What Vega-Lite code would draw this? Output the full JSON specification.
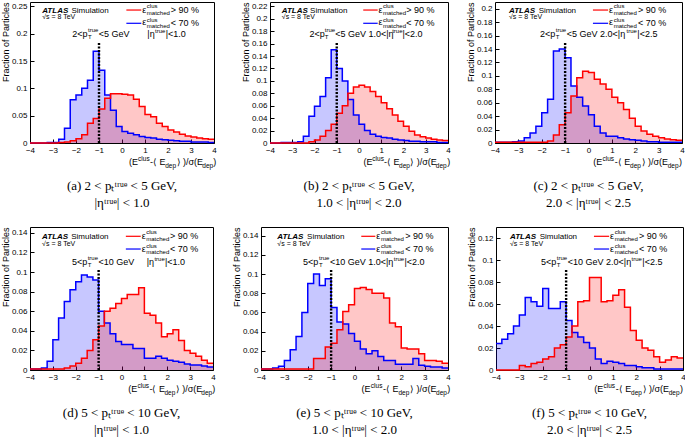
{
"$schema":"https://vega.github.io/schema/vega-lite/v6.json",
"padding":{"left":0,"top":1,"right":0,"bottom":0},
"config":{
 "view":{"stroke":"black","strokeWidth":1},
 "numberFormat":"~g",
 "axis":{"grid":false,"domain":false,"tickSize":-4,"tickColor":"black","tickWidth":1,"labelPadding":7,"labelFont":"Liberation Sans","labelFontSize":8,"labelColor":"black","labelFlush":false,"labelOverlap":false,"titleFont":"Liberation Sans","titleFontSize":9,"titleFontWeight":"normal","titleColor":"black"},
 "axisY":{"titleAnchor":"end","titlePadding":1},
 "text":{"font":"Liberation Sans","fontSize":9,"align":"left","baseline":"middle","color":"black"},
 "rule":{"color":"black"},
 "title":{"orient":"bottom","anchor":"middle","font":"Liberation Serif","fontSize":13,"fontWeight":"normal","lineHeight":17,"color":"black"}
},
"spacing":15,
"vconcat":[
{"spacing":22,"hconcat":[
{"width":184,"height":141,"title":{"text":["(a) 2 < pₜᵗʳᵘᵉ < 5 GeV,","|ηᵗʳᵘᵉ| < 1.0"],"offset":10},"resolve":{"scale":{"y":"independent"}},
"layer":[
{"data":{"values":[
{"s":"b","x":-4,"y":0},{"s":"b","x":-3.75,"y":0},{"s":"b","x":-3.5,"y":0},{"s":"b","x":-3.25,"y":0.001},{"s":"b","x":-3,"y":0.001},{"s":"b","x":-2.75,"y":0.007},{"s":"b","x":-2.5,"y":0.027},{"s":"b","x":-2.25,"y":0.079},{"s":"b","x":-2,"y":0.088},{"s":"b","x":-1.75,"y":0.1},{"s":"b","x":-1.5,"y":0.115},{"s":"b","x":-1.25,"y":0.168},{"s":"b","x":-1,"y":0.133},{"s":"b","x":-0.75,"y":0.088},{"s":"b","x":-0.5,"y":0.06},{"s":"b","x":-0.25,"y":0.03},{"s":"b","x":0,"y":0.021},{"s":"b","x":0.25,"y":0.018},{"s":"b","x":0.5,"y":0.015},{"s":"b","x":0.75,"y":0.012},{"s":"b","x":1,"y":0.01},{"s":"b","x":1.25,"y":0.009},{"s":"b","x":1.5,"y":0.007},{"s":"b","x":1.75,"y":0.006},{"s":"b","x":2,"y":0.005},{"s":"b","x":2.25,"y":0.004},{"s":"b","x":2.5,"y":0.003},{"s":"b","x":2.75,"y":0.003},{"s":"b","x":3,"y":0.002},{"s":"b","x":3.25,"y":0.002},{"s":"b","x":3.5,"y":0.002},{"s":"b","x":3.75,"y":0.001},{"s":"b","x":4,"y":0.001},
{"s":"r","x":-4,"y":0},{"s":"r","x":-3.75,"y":0},{"s":"r","x":-3.5,"y":0},{"s":"r","x":-3.25,"y":0},{"s":"r","x":-3,"y":0},{"s":"r","x":-2.75,"y":0.001},{"s":"r","x":-2.5,"y":0.002},{"s":"r","x":-2.25,"y":0.004},{"s":"r","x":-2,"y":0.008},{"s":"r","x":-1.75,"y":0.015},{"s":"r","x":-1.5,"y":0.036},{"s":"r","x":-1.25,"y":0.045},{"s":"r","x":-1,"y":0.062},{"s":"r","x":-0.75,"y":0.082},{"s":"r","x":-0.5,"y":0.09},{"s":"r","x":-0.25,"y":0.09},{"s":"r","x":0,"y":0.089},{"s":"r","x":0.25,"y":0.088},{"s":"r","x":0.5,"y":0.08},{"s":"r","x":0.75,"y":0.067},{"s":"r","x":1,"y":0.052},{"s":"r","x":1.25,"y":0.048},{"s":"r","x":1.5,"y":0.036},{"s":"r","x":1.75,"y":0.03},{"s":"r","x":2,"y":0.024},{"s":"r","x":2.25,"y":0.02},{"s":"r","x":2.5,"y":0.016},{"s":"r","x":2.75,"y":0.013},{"s":"r","x":3,"y":0.011},{"s":"r","x":3.25,"y":0.009},{"s":"r","x":3.5,"y":0.008},{"s":"r","x":3.75,"y":0.007},{"s":"r","x":4,"y":0.007}
]},
"layer":[
{"mark":{"type":"area","interpolate":"step-after","fillOpacity":0.22},"encoding":{"x":{"field":"x","type":"quantitative","scale":{"domain":[-4,4],"nice":false},"axis":{"values":[-4,-3,-2,-1,0,1,2,3,4],"tickCount":40,"title":null,"labelOverlap":false}},"y":{"field":"y","type":"quantitative","stack":null,"scale":{"domain":[0,0.258],"nice":false},"axis":{"values":[0,0.05,0.1,0.15,0.2,0.25],"tickCount":40,"title":"Fraction of Particles","labelOverlap":false}},"color":{"field":"s","type":"nominal","scale":{"domain":["b","r"],"range":["#0000ff","#ff0000"]},"legend":null}}},
{"mark":{"type":"line","interpolate":"step-after","strokeWidth":1.5},"encoding":{"x":{"field":"x","type":"quantitative"},"y":{"field":"y","type":"quantitative"},"color":{"field":"s","type":"nominal"}}}
]},
{"data":{"values":[{}]},"layer":[
{"mark":{"type":"rule","strokeWidth":2.4,"strokeDash":[2,1.5]},"encoding":{"x":{"datum":-1},"y":{"datum":0,"scale":{"domain":[0,1]},"axis":null},"y2":{"datum":0.72}}},
{"mark":{"type":"rule","color":"#ff0000","strokeWidth":1.2},"encoding":{"x":{"datum":0.19},"x2":{"datum":0.84},"y":{"datum":0.943,"scale":{"domain":[0,1]},"axis":null}}},
{"mark":{"type":"rule","color":"#0000ff","strokeWidth":1.2},"encoding":{"x":{"datum":0.19},"x2":{"datum":0.84},"y":{"datum":0.849,"scale":{"domain":[0,1]},"axis":null}}},
{"mark":{"type":"text","text":"ATLAS","fontSize":8,"fontWeight":"bold","fontStyle":"italic"},"encoding":{"x":{"datum":-3.47},"y":{"datum":0.938,"scale":{"domain":[0,1]},"axis":null}}},
{"mark":{"type":"text","text":"Simulation","fontSize":8},"encoding":{"x":{"datum":-2.2},"y":{"datum":0.938,"scale":{"domain":[0,1]},"axis":null}}},
{"mark":{"type":"text","text":"√s = 8 TeV","fontSize":7},"encoding":{"x":{"datum":-3.47},"y":{"datum":0.891,"scale":{"domain":[0,1]},"axis":null}}},
{"mark":{"type":"text","text":["ε","ε"],"lineHeight":12.5,"baseline":"top"},"encoding":{"x":{"datum":0.88},"y":{"datum":0.972,"scale":{"domain":[0,1]},"axis":null}}},
{"mark":{"type":"text","text":["clus","matched","clus","matched"],"fontSize":6,"lineHeight":6.67,"baseline":"top"},"encoding":{"x":{"datum":1.08},"y":{"datum":0.991,"scale":{"domain":[0,1]},"axis":null}}},
{"mark":{"type":"text","text":["> 90 %","< 70 %"],"lineHeight":12.7,"baseline":"top"},"encoding":{"x":{"datum":2.12},"y":{"datum":0.971,"scale":{"domain":[0,1]},"axis":null}}},
{"mark":{"type":"text","text":"2<p"},"encoding":{"x":{"datum":-2.16},"y":{"datum":0.773,"scale":{"domain":[0,1]},"axis":null}}},
{"mark":{"type":"text","text":["true","T"],"fontSize":6,"lineHeight":6.6,"baseline":"top"},"encoding":{"x":{"datum":-1.48},"y":{"datum":0.82,"scale":{"domain":[0,1]},"axis":null}}},
{"mark":{"type":"text","text":"<5 GeV"},"encoding":{"x":{"datum":-1.01},"y":{"datum":0.773,"scale":{"domain":[0,1]},"axis":null}}},
{"mark":{"type":"text","text":"|η"},"encoding":{"x":{"datum":1.1},"y":{"datum":0.773,"scale":{"domain":[0,1]},"axis":null}}},
{"mark":{"type":"text","text":"true","fontSize":6},"encoding":{"x":{"datum":1.44},"y":{"datum":0.796,"scale":{"domain":[0,1]},"axis":null}}},
{"mark":{"type":"text","text":"|<1.0"},"encoding":{"x":{"datum":1.9},"y":{"datum":0.773,"scale":{"domain":[0,1]},"axis":null}}},
{"mark":{"type":"text","text":"(E"},"encoding":{"x":{"datum":0.3},"y":{"datum":-0.138,"scale":{"domain":[0,1]},"axis":null}}},
{"mark":{"type":"text","text":"clus","fontSize":6.5},"encoding":{"x":{"datum":0.7},"y":{"datum":-0.113,"scale":{"domain":[0,1]},"axis":null}}},
{"mark":{"type":"text","text":"-⟨ E"},"encoding":{"x":{"datum":1.22},"y":{"datum":-0.138,"scale":{"domain":[0,1]},"axis":null}}},
{"mark":{"type":"text","text":"dep","fontSize":6.5},"encoding":{"x":{"datum":1.88},"y":{"datum":-0.165,"scale":{"domain":[0,1]},"axis":null}}},
{"mark":{"type":"text","text":"⟩ )/σ(E"},"encoding":{"x":{"datum":2.37},"y":{"datum":-0.138,"scale":{"domain":[0,1]},"axis":null}}},
{"mark":{"type":"text","text":"dep","fontSize":6.5},"encoding":{"x":{"datum":3.49},"y":{"datum":-0.165,"scale":{"domain":[0,1]},"axis":null}}},
{"mark":{"type":"text","text":")"},"encoding":{"x":{"datum":3.97},"y":{"datum":-0.138,"scale":{"domain":[0,1]},"axis":null}}}
]}
]},
{"spacing":13,"hconcat":[
{"width":178,"height":141,"title":{"text":["(b) 2 < pₜᵗʳᵘᵉ < 5 GeV,","1.0 < |ηᵗʳᵘᵉ| < 2.0"],"offset":10},"resolve":{"scale":{"y":"independent"}},
"layer":[
{"data":{"values":[
{"s":"b","x":-4,"y":0},{"s":"b","x":-3.75,"y":0},{"s":"b","x":-3.5,"y":0.001},{"s":"b","x":-3.25,"y":0.001},{"s":"b","x":-3,"y":0.001},{"s":"b","x":-2.75,"y":0.002},{"s":"b","x":-2.5,"y":0.011},{"s":"b","x":-2.25,"y":0.043},{"s":"b","x":-2,"y":0.059},{"s":"b","x":-1.75,"y":0.075},{"s":"b","x":-1.5,"y":0.105},{"s":"b","x":-1.25,"y":0.15},{"s":"b","x":-1,"y":0.12},{"s":"b","x":-0.75,"y":0.1},{"s":"b","x":-0.5,"y":0.07},{"s":"b","x":-0.25,"y":0.045},{"s":"b","x":0,"y":0.03},{"s":"b","x":0.25,"y":0.02},{"s":"b","x":0.5,"y":0.014},{"s":"b","x":0.75,"y":0.011},{"s":"b","x":1,"y":0.009},{"s":"b","x":1.25,"y":0.008},{"s":"b","x":1.5,"y":0.006},{"s":"b","x":1.75,"y":0.005},{"s":"b","x":2,"y":0.004},{"s":"b","x":2.25,"y":0.003},{"s":"b","x":2.5,"y":0.003},{"s":"b","x":2.75,"y":0.002},{"s":"b","x":3,"y":0.002},{"s":"b","x":3.25,"y":0.002},{"s":"b","x":3.5,"y":0.001},{"s":"b","x":3.75,"y":0.001},{"s":"b","x":4,"y":0.001},
{"s":"r","x":-4,"y":0},{"s":"r","x":-3.75,"y":0},{"s":"r","x":-3.5,"y":0},{"s":"r","x":-3.25,"y":0},{"s":"r","x":-3,"y":0},{"s":"r","x":-2.75,"y":0},{"s":"r","x":-2.5,"y":0},{"s":"r","x":-2.25,"y":0.002},{"s":"r","x":-2,"y":0.005},{"s":"r","x":-1.75,"y":0.011},{"s":"r","x":-1.5,"y":0.02},{"s":"r","x":-1.25,"y":0.03},{"s":"r","x":-1,"y":0.048},{"s":"r","x":-0.75,"y":0.06},{"s":"r","x":-0.5,"y":0.08},{"s":"r","x":-0.25,"y":0.09},{"s":"r","x":0,"y":0.093},{"s":"r","x":0.25,"y":0.09},{"s":"r","x":0.5,"y":0.083},{"s":"r","x":0.75,"y":0.075},{"s":"r","x":1,"y":0.065},{"s":"r","x":1.25,"y":0.055},{"s":"r","x":1.5,"y":0.045},{"s":"r","x":1.75,"y":0.035},{"s":"r","x":2,"y":0.027},{"s":"r","x":2.25,"y":0.019},{"s":"r","x":2.5,"y":0.013},{"s":"r","x":2.75,"y":0.01},{"s":"r","x":3,"y":0.008},{"s":"r","x":3.25,"y":0.006},{"s":"r","x":3.5,"y":0.005},{"s":"r","x":3.75,"y":0.004},{"s":"r","x":4,"y":0.004}
]},
"layer":[
{"mark":{"type":"area","interpolate":"step-after","fillOpacity":0.22},"encoding":{"x":{"field":"x","type":"quantitative","scale":{"domain":[-4,4],"nice":false},"axis":{"values":[-4,-3,-2,-1,0,1,2,3,4],"tickCount":40,"title":null,"labelOverlap":false}},"y":{"field":"y","type":"quantitative","stack":null,"scale":{"domain":[0,0.227],"nice":false},"axis":{"values":[0,0.02,0.04,0.06,0.08,0.1,0.12,0.14,0.16,0.18,0.2,0.22],"tickCount":40,"title":"Fraction of Particles","labelOverlap":false}},"color":{"field":"s","type":"nominal","scale":{"domain":["b","r"],"range":["#0000ff","#ff0000"]},"legend":null}}},
{"mark":{"type":"line","interpolate":"step-after","strokeWidth":1.5},"encoding":{"x":{"field":"x","type":"quantitative"},"y":{"field":"y","type":"quantitative"},"color":{"field":"s","type":"nominal"}}}
]},
{"data":{"values":[{}]},"layer":[
{"mark":{"type":"rule","strokeWidth":2.4,"strokeDash":[2,1.5]},"encoding":{"x":{"datum":-1},"y":{"datum":0,"scale":{"domain":[0,1]},"axis":null},"y2":{"datum":0.72}}},
{"mark":{"type":"rule","color":"#ff0000","strokeWidth":1.2},"encoding":{"x":{"datum":0.19},"x2":{"datum":0.84},"y":{"datum":0.943,"scale":{"domain":[0,1]},"axis":null}}},
{"mark":{"type":"rule","color":"#0000ff","strokeWidth":1.2},"encoding":{"x":{"datum":0.19},"x2":{"datum":0.84},"y":{"datum":0.849,"scale":{"domain":[0,1]},"axis":null}}},
{"mark":{"type":"text","text":"ATLAS","fontSize":8,"fontWeight":"bold","fontStyle":"italic"},"encoding":{"x":{"datum":-3.47},"y":{"datum":0.938,"scale":{"domain":[0,1]},"axis":null}}},
{"mark":{"type":"text","text":"Simulation","fontSize":8},"encoding":{"x":{"datum":-2.2},"y":{"datum":0.938,"scale":{"domain":[0,1]},"axis":null}}},
{"mark":{"type":"text","text":"√s = 8 TeV","fontSize":7},"encoding":{"x":{"datum":-3.47},"y":{"datum":0.891,"scale":{"domain":[0,1]},"axis":null}}},
{"mark":{"type":"text","text":["ε","ε"],"lineHeight":12.5,"baseline":"top"},"encoding":{"x":{"datum":0.88},"y":{"datum":0.972,"scale":{"domain":[0,1]},"axis":null}}},
{"mark":{"type":"text","text":["clus","matched","clus","matched"],"fontSize":6,"lineHeight":6.67,"baseline":"top"},"encoding":{"x":{"datum":1.08},"y":{"datum":0.991,"scale":{"domain":[0,1]},"axis":null}}},
{"mark":{"type":"text","text":["> 90 %","< 70 %"],"lineHeight":12.7,"baseline":"top"},"encoding":{"x":{"datum":2.12},"y":{"datum":0.971,"scale":{"domain":[0,1]},"axis":null}}},
{"mark":{"type":"text","text":"2<p"},"encoding":{"x":{"datum":-2.22},"y":{"datum":0.773,"scale":{"domain":[0,1]},"axis":null}}},
{"mark":{"type":"text","text":["true","T"],"fontSize":6,"lineHeight":6.6,"baseline":"top"},"encoding":{"x":{"datum":-1.54},"y":{"datum":0.82,"scale":{"domain":[0,1]},"axis":null}}},
{"mark":{"type":"text","text":"<5 GeV 1.0<|η"},"encoding":{"x":{"datum":-1.07},"y":{"datum":0.773,"scale":{"domain":[0,1]},"axis":null}}},
{"mark":{"type":"text","text":"true","fontSize":6},"encoding":{"x":{"datum":1.49},"y":{"datum":0.796,"scale":{"domain":[0,1]},"axis":null}}},
{"mark":{"type":"text","text":"|<2.0"},"encoding":{"x":{"datum":1.95},"y":{"datum":0.773,"scale":{"domain":[0,1]},"axis":null}}},
{"mark":{"type":"text","text":"(E"},"encoding":{"x":{"datum":0.2},"y":{"datum":-0.138,"scale":{"domain":[0,1]},"axis":null}}},
{"mark":{"type":"text","text":"clus","fontSize":6.5},"encoding":{"x":{"datum":0.6},"y":{"datum":-0.113,"scale":{"domain":[0,1]},"axis":null}}},
{"mark":{"type":"text","text":"-⟨ E"},"encoding":{"x":{"datum":1.12},"y":{"datum":-0.138,"scale":{"domain":[0,1]},"axis":null}}},
{"mark":{"type":"text","text":"dep","fontSize":6.5},"encoding":{"x":{"datum":1.8},"y":{"datum":-0.165,"scale":{"domain":[0,1]},"axis":null}}},
{"mark":{"type":"text","text":"⟩ )/σ(E"},"encoding":{"x":{"datum":2.3},"y":{"datum":-0.138,"scale":{"domain":[0,1]},"axis":null}}},
{"mark":{"type":"text","text":"dep","fontSize":6.5},"encoding":{"x":{"datum":3.45},"y":{"datum":-0.165,"scale":{"domain":[0,1]},"axis":null}}},
{"mark":{"type":"text","text":")"},"encoding":{"x":{"datum":3.97},"y":{"datum":-0.138,"scale":{"domain":[0,1]},"axis":null}}}
]}
]},
{"width":187,"height":141,"title":{"text":["(c) 2 < pₜᵗʳᵘᵉ < 5 GeV,","2.0 < |ηᵗʳᵘᵉ| < 2.5"],"offset":10},"resolve":{"scale":{"y":"independent"}},
"layer":[
{"data":{"values":[
{"s":"b","x":-4,"y":0.001},{"s":"b","x":-3.75,"y":0.001},{"s":"b","x":-3.5,"y":0.001},{"s":"b","x":-3.25,"y":0.002},{"s":"b","x":-3,"y":0.003},{"s":"b","x":-2.75,"y":0.008},{"s":"b","x":-2.5,"y":0.015},{"s":"b","x":-2.25,"y":0.025},{"s":"b","x":-2,"y":0.045},{"s":"b","x":-1.75,"y":0.065},{"s":"b","x":-1.5,"y":0.137},{"s":"b","x":-1.25,"y":0.14},{"s":"b","x":-1,"y":0.127},{"s":"b","x":-0.75,"y":0.085},{"s":"b","x":-0.5,"y":0.068},{"s":"b","x":-0.25,"y":0.055},{"s":"b","x":0,"y":0.042},{"s":"b","x":0.25,"y":0.025},{"s":"b","x":0.5,"y":0.015},{"s":"b","x":0.75,"y":0.01},{"s":"b","x":1,"y":0.01},{"s":"b","x":1.25,"y":0.008},{"s":"b","x":1.5,"y":0.006},{"s":"b","x":1.75,"y":0.005},{"s":"b","x":2,"y":0.004},{"s":"b","x":2.25,"y":0.003},{"s":"b","x":2.5,"y":0.002},{"s":"b","x":2.75,"y":0.002},{"s":"b","x":3,"y":0.001},{"s":"b","x":3.25,"y":0.001},{"s":"b","x":3.5,"y":0.001},{"s":"b","x":3.75,"y":0.001},{"s":"b","x":4,"y":0.001},
{"s":"r","x":-4,"y":0.001},{"s":"r","x":-3.75,"y":0.001},{"s":"r","x":-3.5,"y":0.001},{"s":"r","x":-3.25,"y":0.001},{"s":"r","x":-3,"y":0.001},{"s":"r","x":-2.75,"y":0.001},{"s":"r","x":-2.5,"y":0.001},{"s":"r","x":-2.25,"y":0.001},{"s":"r","x":-2,"y":0.001},{"s":"r","x":-1.75,"y":0.003},{"s":"r","x":-1.5,"y":0.012},{"s":"r","x":-1.25,"y":0.027},{"s":"r","x":-1,"y":0.045},{"s":"r","x":-0.75,"y":0.07},{"s":"r","x":-0.5,"y":0.097},{"s":"r","x":-0.25,"y":0.107},{"s":"r","x":0,"y":0.105},{"s":"r","x":0.25,"y":0.095},{"s":"r","x":0.5,"y":0.088},{"s":"r","x":0.75,"y":0.08},{"s":"r","x":1,"y":0.068},{"s":"r","x":1.25,"y":0.06},{"s":"r","x":1.5,"y":0.05},{"s":"r","x":1.75,"y":0.037},{"s":"r","x":2,"y":0.025},{"s":"r","x":2.25,"y":0.018},{"s":"r","x":2.5,"y":0.013},{"s":"r","x":2.75,"y":0.01},{"s":"r","x":3,"y":0.008},{"s":"r","x":3.25,"y":0.006},{"s":"r","x":3.5,"y":0.005},{"s":"r","x":3.75,"y":0.004},{"s":"r","x":4,"y":0.004}
]},
"layer":[
{"mark":{"type":"area","interpolate":"step-after","fillOpacity":0.22},"encoding":{"x":{"field":"x","type":"quantitative","scale":{"domain":[-4,4],"nice":false},"axis":{"values":[-4,-3,-2,-1,0,1,2,3,4],"tickCount":40,"title":null,"labelOverlap":false}},"y":{"field":"y","type":"quantitative","stack":null,"scale":{"domain":[0,0.21],"nice":false},"axis":{"values":[0,0.02,0.04,0.06,0.08,0.1,0.12,0.14,0.16,0.18,0.2],"tickCount":40,"title":"Fraction of Particles","labelOverlap":false}},"color":{"field":"s","type":"nominal","scale":{"domain":["b","r"],"range":["#0000ff","#ff0000"]},"legend":null}}},
{"mark":{"type":"line","interpolate":"step-after","strokeWidth":1.5},"encoding":{"x":{"field":"x","type":"quantitative"},"y":{"field":"y","type":"quantitative"},"color":{"field":"s","type":"nominal"}}}
]},
{"data":{"values":[{}]},"layer":[
{"mark":{"type":"rule","strokeWidth":2.4,"strokeDash":[2,1.5]},"encoding":{"x":{"datum":-1},"y":{"datum":0,"scale":{"domain":[0,1]},"axis":null},"y2":{"datum":0.72}}},
{"mark":{"type":"rule","color":"#ff0000","strokeWidth":1.2},"encoding":{"x":{"datum":0.19},"x2":{"datum":0.84},"y":{"datum":0.943,"scale":{"domain":[0,1]},"axis":null}}},
{"mark":{"type":"rule","color":"#0000ff","strokeWidth":1.2},"encoding":{"x":{"datum":0.19},"x2":{"datum":0.84},"y":{"datum":0.849,"scale":{"domain":[0,1]},"axis":null}}},
{"mark":{"type":"text","text":"ATLAS","fontSize":8,"fontWeight":"bold","fontStyle":"italic"},"encoding":{"x":{"datum":-3.4},"y":{"datum":0.938,"scale":{"domain":[0,1]},"axis":null}}},
{"mark":{"type":"text","text":"Simulation","fontSize":8},"encoding":{"x":{"datum":-2.13},"y":{"datum":0.938,"scale":{"domain":[0,1]},"axis":null}}},
{"mark":{"type":"text","text":"√s = 8 TeV","fontSize":7},"encoding":{"x":{"datum":-3.4},"y":{"datum":0.891,"scale":{"domain":[0,1]},"axis":null}}},
{"mark":{"type":"text","text":["ε","ε"],"lineHeight":12.5,"baseline":"top"},"encoding":{"x":{"datum":0.88},"y":{"datum":0.972,"scale":{"domain":[0,1]},"axis":null}}},
{"mark":{"type":"text","text":["clus","matched","clus","matched"],"fontSize":6,"lineHeight":6.67,"baseline":"top"},"encoding":{"x":{"datum":1.08},"y":{"datum":0.991,"scale":{"domain":[0,1]},"axis":null}}},
{"mark":{"type":"text","text":["> 90 %","< 70 %"],"lineHeight":12.7,"baseline":"top"},"encoding":{"x":{"datum":2.12},"y":{"datum":0.971,"scale":{"domain":[0,1]},"axis":null}}},
{"mark":{"type":"text","text":"2<p"},"encoding":{"x":{"datum":-2.08},"y":{"datum":0.773,"scale":{"domain":[0,1]},"axis":null}}},
{"mark":{"type":"text","text":["true","T"],"fontSize":6,"lineHeight":6.6,"baseline":"top"},"encoding":{"x":{"datum":-1.4},"y":{"datum":0.82,"scale":{"domain":[0,1]},"axis":null}}},
{"mark":{"type":"text","text":"<5 GeV 2.0<|η"},"encoding":{"x":{"datum":-0.93},"y":{"datum":0.773,"scale":{"domain":[0,1]},"axis":null}}},
{"mark":{"type":"text","text":"true","fontSize":6},"encoding":{"x":{"datum":1.63},"y":{"datum":0.796,"scale":{"domain":[0,1]},"axis":null}}},
{"mark":{"type":"text","text":"|<2.5"},"encoding":{"x":{"datum":2.09},"y":{"datum":0.773,"scale":{"domain":[0,1]},"axis":null}}},
{"mark":{"type":"text","text":"(E"},"encoding":{"x":{"datum":0.2},"y":{"datum":-0.138,"scale":{"domain":[0,1]},"axis":null}}},
{"mark":{"type":"text","text":"clus","fontSize":6.5},"encoding":{"x":{"datum":0.6},"y":{"datum":-0.113,"scale":{"domain":[0,1]},"axis":null}}},
{"mark":{"type":"text","text":"-⟨ E"},"encoding":{"x":{"datum":1.12},"y":{"datum":-0.138,"scale":{"domain":[0,1]},"axis":null}}},
{"mark":{"type":"text","text":"dep","fontSize":6.5},"encoding":{"x":{"datum":1.78},"y":{"datum":-0.165,"scale":{"domain":[0,1]},"axis":null}}},
{"mark":{"type":"text","text":"⟩ )/σ(E"},"encoding":{"x":{"datum":2.27},"y":{"datum":-0.138,"scale":{"domain":[0,1]},"axis":null}}},
{"mark":{"type":"text","text":"dep","fontSize":6.5},"encoding":{"x":{"datum":3.39},"y":{"datum":-0.165,"scale":{"domain":[0,1]},"axis":null}}},
{"mark":{"type":"text","text":")"},"encoding":{"x":{"datum":3.87},"y":{"datum":-0.138,"scale":{"domain":[0,1]},"axis":null}}}
]}
]}
]}
]},
{"spacing":14,"hconcat":[
{"width":183,"height":143,"title":{"text":["(d) 5 < pₜᵗʳᵘᵉ < 10 GeV,","|ηᵗʳᵘᵉ| < 1.0"],"offset":10},"resolve":{"scale":{"y":"independent"}},
"layer":[
{"data":{"values":[
{"s":"b","x":-4,"y":0.001},{"s":"b","x":-3.75,"y":0.001},{"s":"b","x":-3.5,"y":0.002},{"s":"b","x":-3.25,"y":0.009},{"s":"b","x":-3,"y":0.031},{"s":"b","x":-2.75,"y":0.053},{"s":"b","x":-2.5,"y":0.07},{"s":"b","x":-2.25,"y":0.082},{"s":"b","x":-2,"y":0.09},{"s":"b","x":-1.75,"y":0.097},{"s":"b","x":-1.5,"y":0.095},{"s":"b","x":-1.25,"y":0.092},{"s":"b","x":-1,"y":0.06},{"s":"b","x":-0.75,"y":0.048},{"s":"b","x":-0.5,"y":0.037},{"s":"b","x":-0.25,"y":0.029},{"s":"b","x":0,"y":0.026},{"s":"b","x":0.25,"y":0.026},{"s":"b","x":0.5,"y":0.022},{"s":"b","x":0.75,"y":0.022},{"s":"b","x":1,"y":0.012},{"s":"b","x":1.25,"y":0.012},{"s":"b","x":1.5,"y":0.014},{"s":"b","x":1.75,"y":0.012},{"s":"b","x":2,"y":0.01},{"s":"b","x":2.25,"y":0.009},{"s":"b","x":2.5,"y":0.008},{"s":"b","x":2.75,"y":0.006},{"s":"b","x":3,"y":0.005},{"s":"b","x":3.25,"y":0.005},{"s":"b","x":3.5,"y":0.004},{"s":"b","x":3.75,"y":0.003},{"s":"b","x":4,"y":0.003},
{"s":"r","x":-4,"y":0.001},{"s":"r","x":-3.75,"y":0.001},{"s":"r","x":-3.5,"y":0.001},{"s":"r","x":-3.25,"y":0.001},{"s":"r","x":-3,"y":0.001},{"s":"r","x":-2.75,"y":0.001},{"s":"r","x":-2.5,"y":0.002},{"s":"r","x":-2.25,"y":0.004},{"s":"r","x":-2,"y":0.007},{"s":"r","x":-1.75,"y":0.012},{"s":"r","x":-1.5,"y":0.02},{"s":"r","x":-1.25,"y":0.031},{"s":"r","x":-1,"y":0.045},{"s":"r","x":-0.75,"y":0.06},{"s":"r","x":-0.5,"y":0.063},{"s":"r","x":-0.25,"y":0.068},{"s":"r","x":0,"y":0.073},{"s":"r","x":0.25,"y":0.077},{"s":"r","x":0.5,"y":0.077},{"s":"r","x":0.75,"y":0.084},{"s":"r","x":1,"y":0.058},{"s":"r","x":1.25,"y":0.056},{"s":"r","x":1.5,"y":0.048},{"s":"r","x":1.75,"y":0.034},{"s":"r","x":2,"y":0.037},{"s":"r","x":2.25,"y":0.041},{"s":"r","x":2.5,"y":0.03},{"s":"r","x":2.75,"y":0.02},{"s":"r","x":3,"y":0.017},{"s":"r","x":3.25,"y":0.014},{"s":"r","x":3.5,"y":0.01},{"s":"r","x":3.75,"y":0.007},{"s":"r","x":4,"y":0.007}
]},
"layer":[
{"mark":{"type":"area","interpolate":"step-after","fillOpacity":0.22},"encoding":{"x":{"field":"x","type":"quantitative","scale":{"domain":[-4,4],"nice":false},"axis":{"values":[-4,-3,-2,-1,0,1,2,3,4],"tickCount":40,"title":null,"labelOverlap":false}},"y":{"field":"y","type":"quantitative","stack":null,"scale":{"domain":[0,0.146],"nice":false},"axis":{"values":[0,0.02,0.04,0.06,0.08,0.1,0.12,0.14],"tickCount":40,"title":"Fraction of Particles","labelOverlap":false}},"color":{"field":"s","type":"nominal","scale":{"domain":["b","r"],"range":["#0000ff","#ff0000"]},"legend":null}}},
{"mark":{"type":"line","interpolate":"step-after","strokeWidth":1.5},"encoding":{"x":{"field":"x","type":"quantitative"},"y":{"field":"y","type":"quantitative"},"color":{"field":"s","type":"nominal"}}}
]},
{"data":{"values":[{}]},"layer":[
{"mark":{"type":"rule","strokeWidth":2.4,"strokeDash":[2,1.5]},"encoding":{"x":{"datum":-1},"y":{"datum":0,"scale":{"domain":[0,1]},"axis":null},"y2":{"datum":0.71}}},
{"mark":{"type":"rule","color":"#ff0000","strokeWidth":1.2},"encoding":{"x":{"datum":0.19},"x2":{"datum":0.84},"y":{"datum":0.935,"scale":{"domain":[0,1]},"axis":null}}},
{"mark":{"type":"rule","color":"#0000ff","strokeWidth":1.2},"encoding":{"x":{"datum":0.19},"x2":{"datum":0.84},"y":{"datum":0.846,"scale":{"domain":[0,1]},"axis":null}}},
{"mark":{"type":"text","text":"ATLAS","fontSize":8,"fontWeight":"bold","fontStyle":"italic"},"encoding":{"x":{"datum":-3.47},"y":{"datum":0.93,"scale":{"domain":[0,1]},"axis":null}}},
{"mark":{"type":"text","text":"Simulation","fontSize":8},"encoding":{"x":{"datum":-2.2},"y":{"datum":0.93,"scale":{"domain":[0,1]},"axis":null}}},
{"mark":{"type":"text","text":"√s = 8 TeV","fontSize":7},"encoding":{"x":{"datum":-3.47},"y":{"datum":0.884,"scale":{"domain":[0,1]},"axis":null}}},
{"mark":{"type":"text","text":["ε","ε"],"lineHeight":12.7,"baseline":"top"},"encoding":{"x":{"datum":0.88},"y":{"datum":0.963,"scale":{"domain":[0,1]},"axis":null}}},
{"mark":{"type":"text","text":["clus","matched","clus","matched"],"fontSize":6,"lineHeight":6.67,"baseline":"top"},"encoding":{"x":{"datum":1.08},"y":{"datum":0.984,"scale":{"domain":[0,1]},"axis":null}}},
{"mark":{"type":"text","text":["> 90 %","< 70 %"],"lineHeight":12.7,"baseline":"top"},"encoding":{"x":{"datum":2.12},"y":{"datum":0.963,"scale":{"domain":[0,1]},"axis":null}}},
{"mark":{"type":"text","text":"5<p"},"encoding":{"x":{"datum":-2.16},"y":{"datum":0.755,"scale":{"domain":[0,1]},"axis":null}}},
{"mark":{"type":"text","text":["true","T"],"fontSize":6,"lineHeight":6.6,"baseline":"top"},"encoding":{"x":{"datum":-1.48},"y":{"datum":0.802,"scale":{"domain":[0,1]},"axis":null}}},
{"mark":{"type":"text","text":"<10 GeV"},"encoding":{"x":{"datum":-1.01},"y":{"datum":0.755,"scale":{"domain":[0,1]},"axis":null}}},
{"mark":{"type":"text","text":"|η"},"encoding":{"x":{"datum":1.1},"y":{"datum":0.755,"scale":{"domain":[0,1]},"axis":null}}},
{"mark":{"type":"text","text":"true","fontSize":6},"encoding":{"x":{"datum":1.44},"y":{"datum":0.778,"scale":{"domain":[0,1]},"axis":null}}},
{"mark":{"type":"text","text":"|<1.0"},"encoding":{"x":{"datum":1.9},"y":{"datum":0.755,"scale":{"domain":[0,1]},"axis":null}}},
{"mark":{"type":"text","text":"(E"},"encoding":{"x":{"datum":0.3},"y":{"datum":-0.135,"scale":{"domain":[0,1]},"axis":null}}},
{"mark":{"type":"text","text":"clus","fontSize":6.5},"encoding":{"x":{"datum":0.7},"y":{"datum":-0.11,"scale":{"domain":[0,1]},"axis":null}}},
{"mark":{"type":"text","text":"-⟨ E"},"encoding":{"x":{"datum":1.22},"y":{"datum":-0.135,"scale":{"domain":[0,1]},"axis":null}}},
{"mark":{"type":"text","text":"dep","fontSize":6.5},"encoding":{"x":{"datum":1.88},"y":{"datum":-0.162,"scale":{"domain":[0,1]},"axis":null}}},
{"mark":{"type":"text","text":"⟩ )/σ(E"},"encoding":{"x":{"datum":2.37},"y":{"datum":-0.135,"scale":{"domain":[0,1]},"axis":null}}},
{"mark":{"type":"text","text":"dep","fontSize":6.5},"encoding":{"x":{"datum":3.49},"y":{"datum":-0.162,"scale":{"domain":[0,1]},"axis":null}}},
{"mark":{"type":"text","text":")"},"encoding":{"x":{"datum":3.97},"y":{"datum":-0.135,"scale":{"domain":[0,1]},"axis":null}}}
]}
]},
{"width":187,"height":143,"title":{"text":["(e) 5 < pₜᵗʳᵘᵉ < 10 GeV,","1.0 < |ηᵗʳᵘᵉ| < 2.0"],"offset":10},"resolve":{"scale":{"y":"independent"}},
"layer":[
{"data":{"values":[
{"s":"b","x":-4,"y":0.001},{"s":"b","x":-3.75,"y":0.001},{"s":"b","x":-3.5,"y":0.002},{"s":"b","x":-3.25,"y":0.004},{"s":"b","x":-3,"y":0.01},{"s":"b","x":-2.75,"y":0.021},{"s":"b","x":-2.5,"y":0.035},{"s":"b","x":-2.25,"y":0.06},{"s":"b","x":-2,"y":0.09},{"s":"b","x":-1.75,"y":0.1},{"s":"b","x":-1.5,"y":0.088},{"s":"b","x":-1.25,"y":0.095},{"s":"b","x":-1,"y":0.065},{"s":"b","x":-0.75,"y":0.05},{"s":"b","x":-0.5,"y":0.048},{"s":"b","x":-0.25,"y":0.038},{"s":"b","x":0,"y":0.03},{"s":"b","x":0.25,"y":0.022},{"s":"b","x":0.5,"y":0.017},{"s":"b","x":0.75,"y":0.02},{"s":"b","x":1,"y":0.014},{"s":"b","x":1.25,"y":0.01},{"s":"b","x":1.5,"y":0.01},{"s":"b","x":1.75,"y":0.006},{"s":"b","x":2,"y":0.006},{"s":"b","x":2.25,"y":0.006},{"s":"b","x":2.5,"y":0.012},{"s":"b","x":2.75,"y":0.005},{"s":"b","x":3,"y":0.004},{"s":"b","x":3.25,"y":0.003},{"s":"b","x":3.5,"y":0.003},{"s":"b","x":3.75,"y":0.002},{"s":"b","x":4,"y":0.002},
{"s":"r","x":-4,"y":0.001},{"s":"r","x":-3.75,"y":0.001},{"s":"r","x":-3.5,"y":0.001},{"s":"r","x":-3.25,"y":0.001},{"s":"r","x":-3,"y":0.001},{"s":"r","x":-2.75,"y":0.001},{"s":"r","x":-2.5,"y":0.001},{"s":"r","x":-2.25,"y":0.001},{"s":"r","x":-2,"y":0.001},{"s":"r","x":-1.75,"y":0.012},{"s":"r","x":-1.5,"y":0.012},{"s":"r","x":-1.25,"y":0.024},{"s":"r","x":-1,"y":0.028},{"s":"r","x":-0.75,"y":0.042},{"s":"r","x":-0.5,"y":0.061},{"s":"r","x":-0.25,"y":0.068},{"s":"r","x":0,"y":0.085},{"s":"r","x":0.25,"y":0.086},{"s":"r","x":0.5,"y":0.084},{"s":"r","x":0.75,"y":0.08},{"s":"r","x":1,"y":0.08},{"s":"r","x":1.25,"y":0.075},{"s":"r","x":1.5,"y":0.049},{"s":"r","x":1.75,"y":0.045},{"s":"r","x":2,"y":0.023},{"s":"r","x":2.25,"y":0.022},{"s":"r","x":2.5,"y":0.022},{"s":"r","x":2.75,"y":0.017},{"s":"r","x":3,"y":0.01},{"s":"r","x":3.25,"y":0.01},{"s":"r","x":3.5,"y":0.009},{"s":"r","x":3.75,"y":0.007},{"s":"r","x":4,"y":0.007}
]},
"layer":[
{"mark":{"type":"area","interpolate":"step-after","fillOpacity":0.22},"encoding":{"x":{"field":"x","type":"quantitative","scale":{"domain":[-4,4],"nice":false},"axis":{"values":[-4,-3,-2,-1,0,1,2,3,4],"tickCount":40,"title":null,"labelOverlap":false}},"y":{"field":"y","type":"quantitative","stack":null,"scale":{"domain":[0,0.149],"nice":false},"axis":{"values":[0,0.02,0.04,0.06,0.08,0.1,0.12,0.14],"tickCount":40,"title":"Fraction of Particles","labelOverlap":false}},"color":{"field":"s","type":"nominal","scale":{"domain":["b","r"],"range":["#0000ff","#ff0000"]},"legend":null}}},
{"mark":{"type":"line","interpolate":"step-after","strokeWidth":1.5},"encoding":{"x":{"field":"x","type":"quantitative"},"y":{"field":"y","type":"quantitative"},"color":{"field":"s","type":"nominal"}}}
]},
{"data":{"values":[{}]},"layer":[
{"mark":{"type":"rule","strokeWidth":2.4,"strokeDash":[2,1.5]},"encoding":{"x":{"datum":-1},"y":{"datum":0,"scale":{"domain":[0,1]},"axis":null},"y2":{"datum":0.71}}},
{"mark":{"type":"rule","color":"#ff0000","strokeWidth":1.2},"encoding":{"x":{"datum":0.29},"x2":{"datum":0.89},"y":{"datum":0.935,"scale":{"domain":[0,1]},"axis":null}}},
{"mark":{"type":"rule","color":"#0000ff","strokeWidth":1.2},"encoding":{"x":{"datum":0.29},"x2":{"datum":0.89},"y":{"datum":0.846,"scale":{"domain":[0,1]},"axis":null}}},
{"mark":{"type":"text","text":"ATLAS","fontSize":8,"fontWeight":"bold","fontStyle":"italic"},"encoding":{"x":{"datum":-3.3},"y":{"datum":0.93,"scale":{"domain":[0,1]},"axis":null}}},
{"mark":{"type":"text","text":"Simulation","fontSize":8},"encoding":{"x":{"datum":-2.03},"y":{"datum":0.93,"scale":{"domain":[0,1]},"axis":null}}},
{"mark":{"type":"text","text":"√s = 8 TeV","fontSize":7},"encoding":{"x":{"datum":-3.3},"y":{"datum":0.884,"scale":{"domain":[0,1]},"axis":null}}},
{"mark":{"type":"text","text":["ε","ε"],"lineHeight":12.7,"baseline":"top"},"encoding":{"x":{"datum":0.93},"y":{"datum":0.963,"scale":{"domain":[0,1]},"axis":null}}},
{"mark":{"type":"text","text":["clus","matched","clus","matched"],"fontSize":6,"lineHeight":6.67,"baseline":"top"},"encoding":{"x":{"datum":1.13},"y":{"datum":0.984,"scale":{"domain":[0,1]},"axis":null}}},
{"mark":{"type":"text","text":["> 90 %","< 70 %"],"lineHeight":12.7,"baseline":"top"},"encoding":{"x":{"datum":2.17},"y":{"datum":0.963,"scale":{"domain":[0,1]},"axis":null}}},
{"mark":{"type":"text","text":"5<p"},"encoding":{"x":{"datum":-2.2},"y":{"datum":0.755,"scale":{"domain":[0,1]},"axis":null}}},
{"mark":{"type":"text","text":["true","T"],"fontSize":6,"lineHeight":6.6,"baseline":"top"},"encoding":{"x":{"datum":-1.52},"y":{"datum":0.802,"scale":{"domain":[0,1]},"axis":null}}},
{"mark":{"type":"text","text":"<10 GeV 1.0<|η"},"encoding":{"x":{"datum":-1.05},"y":{"datum":0.755,"scale":{"domain":[0,1]},"axis":null}}},
{"mark":{"type":"text","text":"true","fontSize":6},"encoding":{"x":{"datum":1.68},"y":{"datum":0.778,"scale":{"domain":[0,1]},"axis":null}}},
{"mark":{"type":"text","text":"|<2.0"},"encoding":{"x":{"datum":2.14},"y":{"datum":0.755,"scale":{"domain":[0,1]},"axis":null}}},
{"mark":{"type":"text","text":"(E"},"encoding":{"x":{"datum":0.3},"y":{"datum":-0.135,"scale":{"domain":[0,1]},"axis":null}}},
{"mark":{"type":"text","text":"clus","fontSize":6.5},"encoding":{"x":{"datum":0.7},"y":{"datum":-0.11,"scale":{"domain":[0,1]},"axis":null}}},
{"mark":{"type":"text","text":"-⟨ E"},"encoding":{"x":{"datum":1.22},"y":{"datum":-0.135,"scale":{"domain":[0,1]},"axis":null}}},
{"mark":{"type":"text","text":"dep","fontSize":6.5},"encoding":{"x":{"datum":1.88},"y":{"datum":-0.162,"scale":{"domain":[0,1]},"axis":null}}},
{"mark":{"type":"text","text":"⟩ )/σ(E"},"encoding":{"x":{"datum":2.37},"y":{"datum":-0.135,"scale":{"domain":[0,1]},"axis":null}}},
{"mark":{"type":"text","text":"dep","fontSize":6.5},"encoding":{"x":{"datum":3.49},"y":{"datum":-0.162,"scale":{"domain":[0,1]},"axis":null}}},
{"mark":{"type":"text","text":")"},"encoding":{"x":{"datum":3.97},"y":{"datum":-0.135,"scale":{"domain":[0,1]},"axis":null}}}
]}
]},
{"width":187,"height":143,"title":{"text":["(f) 5 < pₜᵗʳᵘᵉ < 10 GeV,","2.0 < |ηᵗʳᵘᵉ| < 2.5"],"offset":10},"resolve":{"scale":{"y":"independent"}},
"layer":[
{"data":{"values":[
{"s":"b","x":-4,"y":0.024},{"s":"b","x":-3.75,"y":0.028},{"s":"b","x":-3.5,"y":0.033},{"s":"b","x":-3.25,"y":0.04},{"s":"b","x":-3,"y":0.05},{"s":"b","x":-2.75,"y":0.066},{"s":"b","x":-2.5,"y":0.062},{"s":"b","x":-2.25,"y":0.058},{"s":"b","x":-2,"y":0.074},{"s":"b","x":-1.75,"y":0.056},{"s":"b","x":-1.5,"y":0.056},{"s":"b","x":-1.25,"y":0.062},{"s":"b","x":-1,"y":0.045},{"s":"b","x":-0.75,"y":0.034},{"s":"b","x":-0.5,"y":0.03},{"s":"b","x":-0.25,"y":0.025},{"s":"b","x":0,"y":0.02},{"s":"b","x":0.25,"y":0.01},{"s":"b","x":0.5,"y":0.006},{"s":"b","x":0.75,"y":0.008},{"s":"b","x":1,"y":0.007},{"s":"b","x":1.25,"y":0.006},{"s":"b","x":1.5,"y":0.004},{"s":"b","x":1.75,"y":0.004},{"s":"b","x":2,"y":0.003},{"s":"b","x":2.25,"y":0.002},{"s":"b","x":2.5,"y":0.002},{"s":"b","x":2.75,"y":0.001},{"s":"b","x":3,"y":0.001},{"s":"b","x":3.25,"y":0.001},{"s":"b","x":3.5,"y":0.001},{"s":"b","x":3.75,"y":0.001},{"s":"b","x":4,"y":0.001},
{"s":"r","x":-4,"y":0},{"s":"r","x":-3.75,"y":0},{"s":"r","x":-3.5,"y":0},{"s":"r","x":-3.25,"y":0},{"s":"r","x":-3,"y":0.004},{"s":"r","x":-2.75,"y":0.003},{"s":"r","x":-2.5,"y":0.006},{"s":"r","x":-2.25,"y":0.007},{"s":"r","x":-2,"y":0.01},{"s":"r","x":-1.75,"y":0.012},{"s":"r","x":-1.5,"y":0.02},{"s":"r","x":-1.25,"y":0.023},{"s":"r","x":-1,"y":0.03},{"s":"r","x":-0.75,"y":0.04},{"s":"r","x":-0.5,"y":0.062},{"s":"r","x":-0.25,"y":0.063},{"s":"r","x":0,"y":0.084},{"s":"r","x":0.25,"y":0.084},{"s":"r","x":0.5,"y":0.062},{"s":"r","x":0.75,"y":0.063},{"s":"r","x":1,"y":0.068},{"s":"r","x":1.25,"y":0.073},{"s":"r","x":1.5,"y":0.057},{"s":"r","x":1.75,"y":0.036},{"s":"r","x":2,"y":0.027},{"s":"r","x":2.25,"y":0.02},{"s":"r","x":2.5,"y":0.018},{"s":"r","x":2.75,"y":0.012},{"s":"r","x":3,"y":0.007},{"s":"r","x":3.25,"y":0.009},{"s":"r","x":3.5,"y":0.012},{"s":"r","x":3.75,"y":0.011},{"s":"r","x":4,"y":0.011}
]},
"layer":[
{"mark":{"type":"area","interpolate":"step-after","fillOpacity":0.22},"encoding":{"x":{"field":"x","type":"quantitative","scale":{"domain":[-4,4],"nice":false},"axis":{"values":[-4,-3,-2,-1,0,1,2,3,4],"tickCount":40,"title":null,"labelOverlap":false}},"y":{"field":"y","type":"quantitative","stack":null,"scale":{"domain":[0,0.13],"nice":false},"axis":{"values":[0,0.02,0.04,0.06,0.08,0.1,0.12],"tickCount":40,"title":"Fraction of Particles","labelOverlap":false}},"color":{"field":"s","type":"nominal","scale":{"domain":["b","r"],"range":["#0000ff","#ff0000"]},"legend":null}}},
{"mark":{"type":"line","interpolate":"step-after","strokeWidth":1.5},"encoding":{"x":{"field":"x","type":"quantitative"},"y":{"field":"y","type":"quantitative"},"color":{"field":"s","type":"nominal"}}}
]},
{"data":{"values":[{}]},"layer":[
{"mark":{"type":"rule","strokeWidth":2.4,"strokeDash":[2,1.5]},"encoding":{"x":{"datum":-1},"y":{"datum":0,"scale":{"domain":[0,1]},"axis":null},"y2":{"datum":0.71}}},
{"mark":{"type":"rule","color":"#ff0000","strokeWidth":1.2},"encoding":{"x":{"datum":0.19},"x2":{"datum":0.84},"y":{"datum":0.935,"scale":{"domain":[0,1]},"axis":null}}},
{"mark":{"type":"rule","color":"#0000ff","strokeWidth":1.2},"encoding":{"x":{"datum":0.19},"x2":{"datum":0.84},"y":{"datum":0.846,"scale":{"domain":[0,1]},"axis":null}}},
{"mark":{"type":"text","text":"ATLAS","fontSize":8,"fontWeight":"bold","fontStyle":"italic"},"encoding":{"x":{"datum":-3.4},"y":{"datum":0.93,"scale":{"domain":[0,1]},"axis":null}}},
{"mark":{"type":"text","text":"Simulation","fontSize":8},"encoding":{"x":{"datum":-2.13},"y":{"datum":0.93,"scale":{"domain":[0,1]},"axis":null}}},
{"mark":{"type":"text","text":"√s = 8 TeV","fontSize":7},"encoding":{"x":{"datum":-3.4},"y":{"datum":0.884,"scale":{"domain":[0,1]},"axis":null}}},
{"mark":{"type":"text","text":["ε","ε"],"lineHeight":12.7,"baseline":"top"},"encoding":{"x":{"datum":0.88},"y":{"datum":0.963,"scale":{"domain":[0,1]},"axis":null}}},
{"mark":{"type":"text","text":["clus","matched","clus","matched"],"fontSize":6,"lineHeight":6.67,"baseline":"top"},"encoding":{"x":{"datum":1.08},"y":{"datum":0.984,"scale":{"domain":[0,1]},"axis":null}}},
{"mark":{"type":"text","text":["> 90 %","< 70 %"],"lineHeight":12.7,"baseline":"top"},"encoding":{"x":{"datum":2.12},"y":{"datum":0.963,"scale":{"domain":[0,1]},"axis":null}}},
{"mark":{"type":"text","text":"5<p"},"encoding":{"x":{"datum":-2.08},"y":{"datum":0.755,"scale":{"domain":[0,1]},"axis":null}}},
{"mark":{"type":"text","text":["true","T"],"fontSize":6,"lineHeight":6.6,"baseline":"top"},"encoding":{"x":{"datum":-1.4},"y":{"datum":0.802,"scale":{"domain":[0,1]},"axis":null}}},
{"mark":{"type":"text","text":"<10 GeV 2.0<|η"},"encoding":{"x":{"datum":-0.93},"y":{"datum":0.755,"scale":{"domain":[0,1]},"axis":null}}},
{"mark":{"type":"text","text":"true","fontSize":6},"encoding":{"x":{"datum":1.8},"y":{"datum":0.778,"scale":{"domain":[0,1]},"axis":null}}},
{"mark":{"type":"text","text":"|<2.5"},"encoding":{"x":{"datum":2.26},"y":{"datum":0.755,"scale":{"domain":[0,1]},"axis":null}}},
{"mark":{"type":"text","text":"(E"},"encoding":{"x":{"datum":0.2},"y":{"datum":-0.135,"scale":{"domain":[0,1]},"axis":null}}},
{"mark":{"type":"text","text":"clus","fontSize":6.5},"encoding":{"x":{"datum":0.6},"y":{"datum":-0.11,"scale":{"domain":[0,1]},"axis":null}}},
{"mark":{"type":"text","text":"-⟨ E"},"encoding":{"x":{"datum":1.12},"y":{"datum":-0.135,"scale":{"domain":[0,1]},"axis":null}}},
{"mark":{"type":"text","text":"dep","fontSize":6.5},"encoding":{"x":{"datum":1.78},"y":{"datum":-0.162,"scale":{"domain":[0,1]},"axis":null}}},
{"mark":{"type":"text","text":"⟩ )/σ(E"},"encoding":{"x":{"datum":2.27},"y":{"datum":-0.135,"scale":{"domain":[0,1]},"axis":null}}},
{"mark":{"type":"text","text":"dep","fontSize":6.5},"encoding":{"x":{"datum":3.39},"y":{"datum":-0.162,"scale":{"domain":[0,1]},"axis":null}}},
{"mark":{"type":"text","text":")"},"encoding":{"x":{"datum":3.87},"y":{"datum":-0.135,"scale":{"domain":[0,1]},"axis":null}}}
]}
]}
]}
]
}
